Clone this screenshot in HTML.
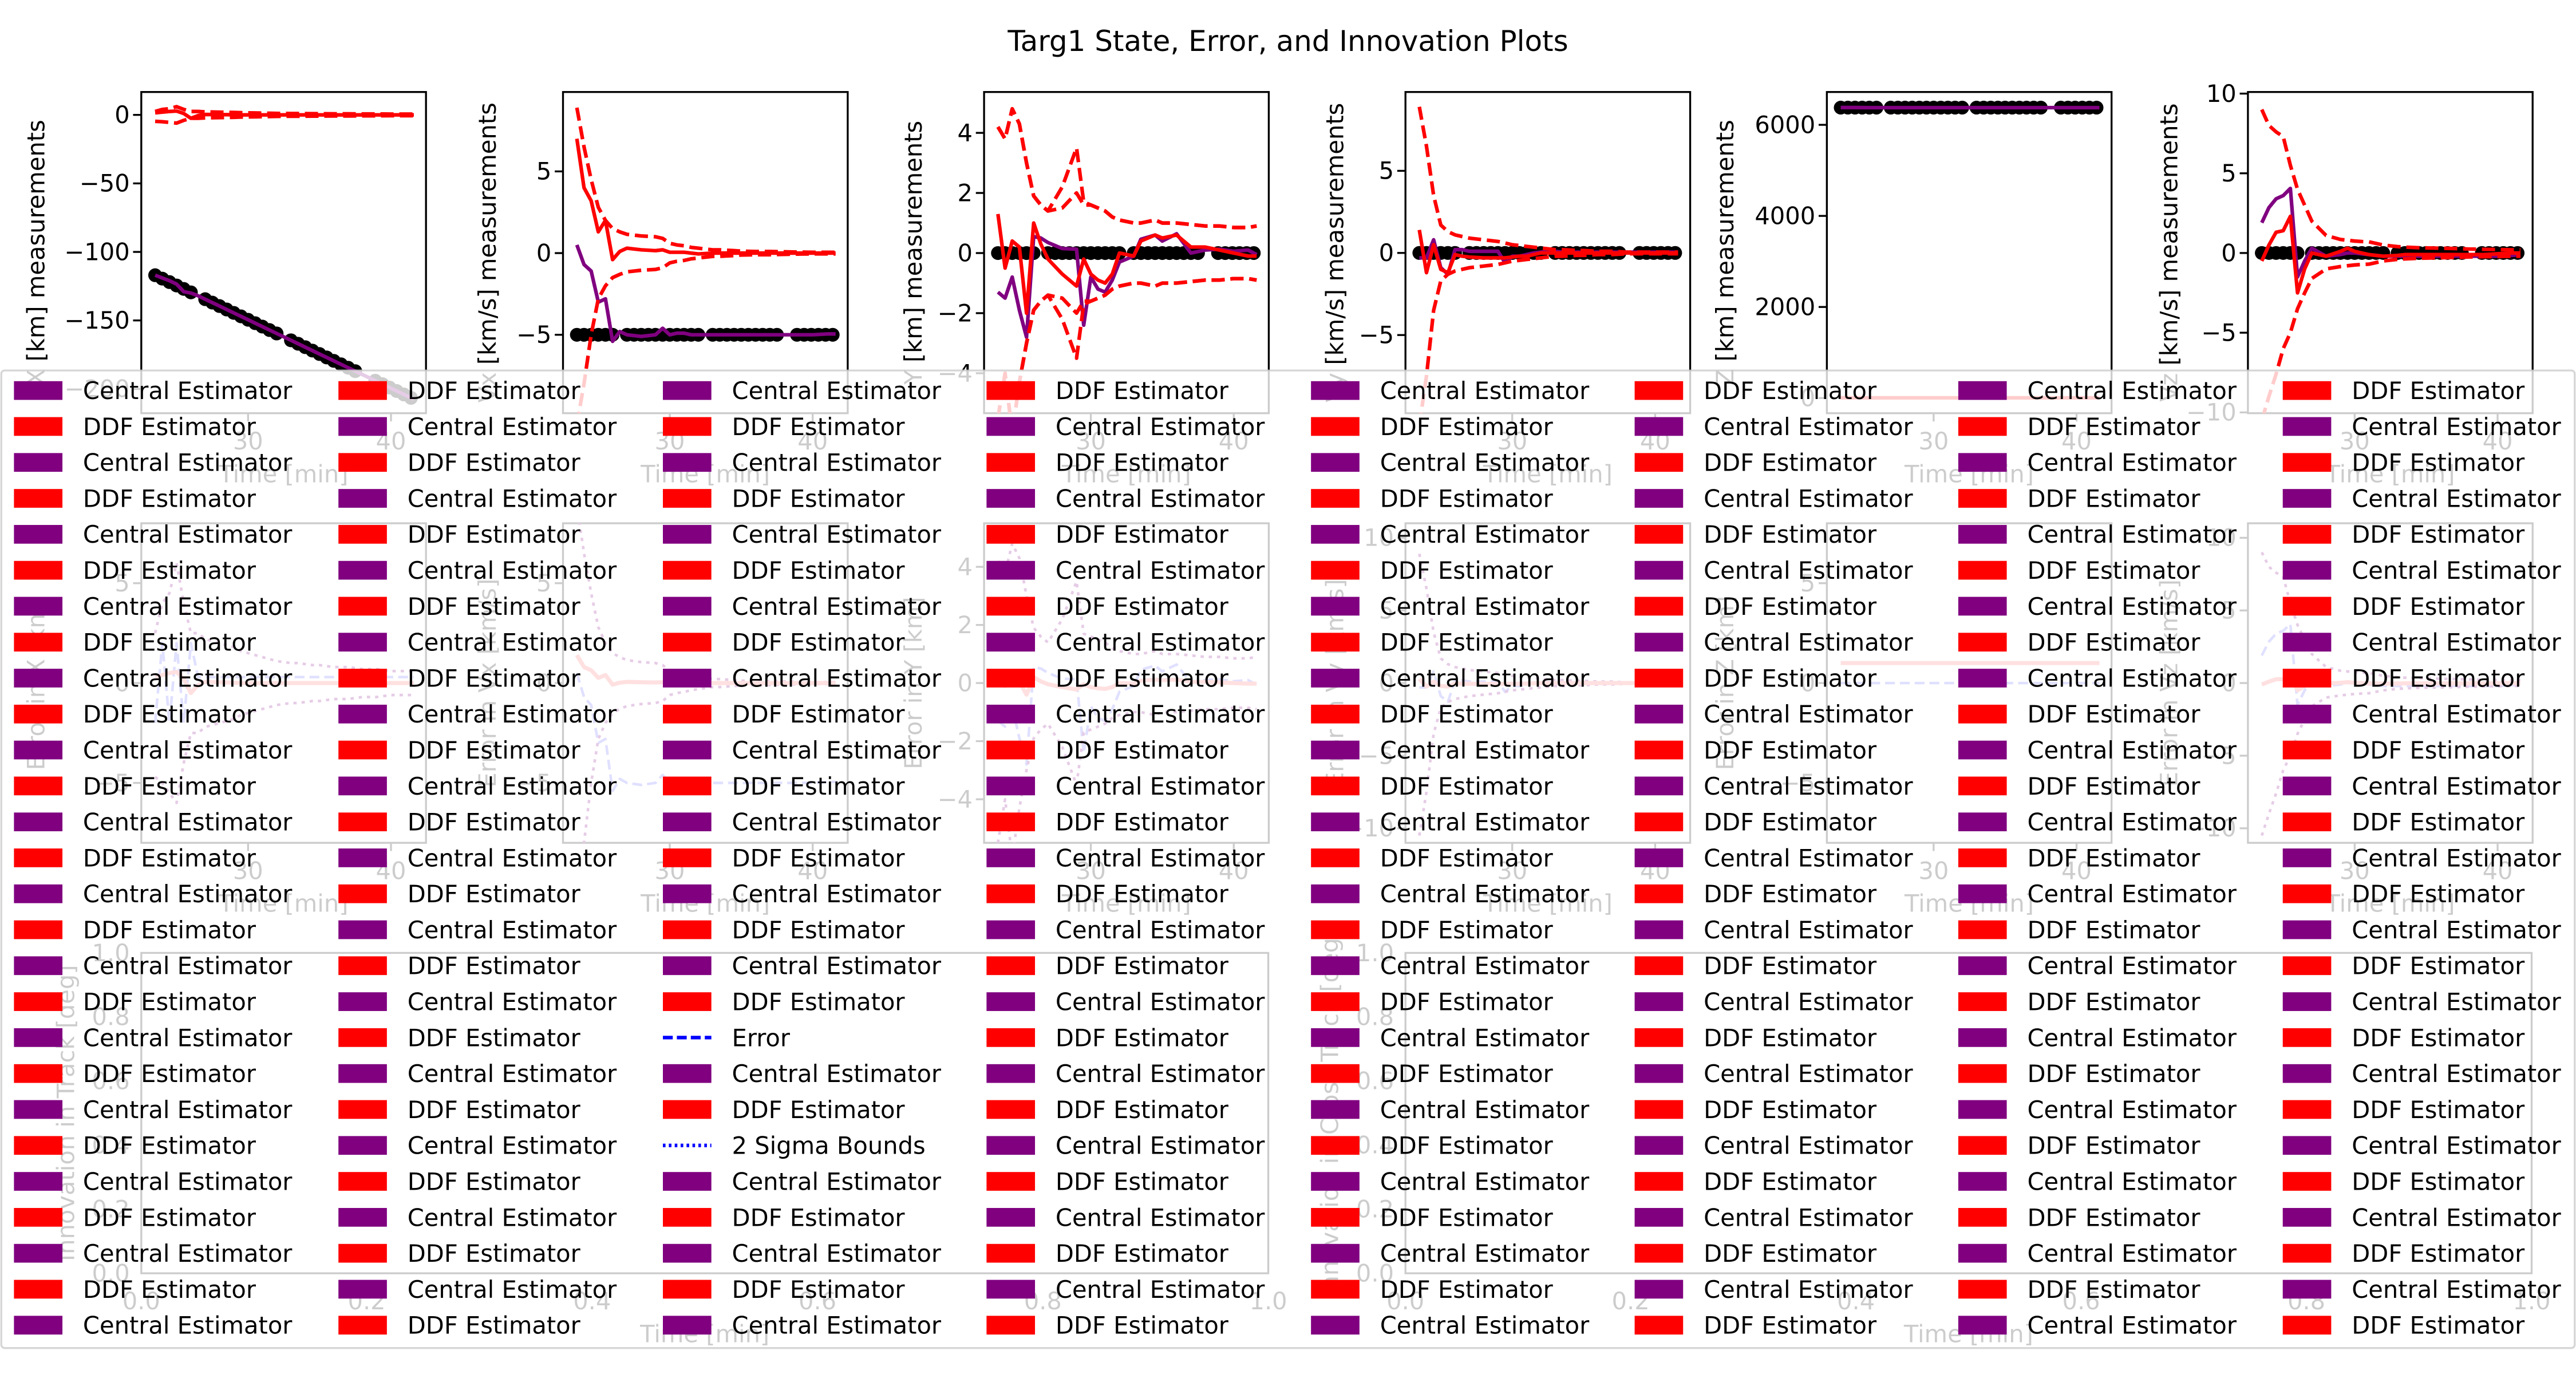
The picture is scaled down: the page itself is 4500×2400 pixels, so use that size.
<!DOCTYPE html>
<html><head><meta charset="utf-8"><style>
html,body{margin:0;padding:0;background:#fff;}
svg{display:block;font-family:"DejaVu Sans","Liberation Sans",sans-serif;}
</style></head><body>
<svg id="fig" xmlns="http://www.w3.org/2000/svg" width="4500" height="2400" viewBox="0 0 1568 836.3" preserveAspectRatio="none">
<rect x="0" y="0" width="1568" height="836.3" fill="#fff"/>
<text x="784" y="31" text-anchor="middle" font-size="17.4" fill="#000">Targ1 State, Error, and Innovation Plots</text>
<g id="row3"></g><g id="row2"></g><g id="row1"></g><g id="legend"></g>
</svg>
<script>
const T = [23.5,24.0,24.5,25.0,25.5,26.0,26.5,27.0,28.0,29.0,29.5,30.0,30.5,31.0,31.5,32.0,33.0,33.5,34.5,35.0,36.0,37.0,38.0,39.0,40.0,41.0,41.6];
const measTimes = [23.5,24.0,24.5,25.0,25.5,26.0,27.0,27.5,28.0,28.5,29.0,29.5,30.0,30.5,31.0,31.5,32.0,33.0,33.5,34.0,34.5,35.0,35.5,36.0,36.5,37.0,37.5,38.9,39.4,39.9,40.4,40.9,41.4];

const xMeas = [-117,-119.5,-122,-124.5,-127,-129.5,-134.5,-137,-139.5,-142,-144.5,-147,-149.5,-152,-154.5,-157,-159.5,-164.5,-167,-169.5,-172,-174.5,-177,-179.5,-182,-184.5,-187,-194,-196.5,-199,-201.5,-204,-206.5];
const xCentral = [-117,-119,-121,-123.5,-129,-130,-132,-134.5,-139.5,-144.5,-147,-149.5,-152,-154.5,-157,-159.5,-164.5,-167,-172,-174.5,-179.5,-184.5,-189.5,-194.5,-199.5,-204.5,-207.5];
const xDDF = [1.5,2.0,2.5,2.8,1.0,-2.5,-0.5,0.3,0.2,0.1,0,0,0,0,0,0,0,0,0,0,0,0,0,0,0,0,0];
const xUpper = [2.5,4.0,4.5,6.0,4.0,2.5,2.5,2.2,2.0,1.8,1.6,1.5,1.4,1.3,1.2,1.1,1.0,1.0,0.9,0.9,0.8,0.8,0.7,0.7,0.6,0.6,0.6];
const xLower = [-4.7,-5.0,-5.5,-6.0,-4.0,-2.5,-2.5,-2.2,-2.0,-1.8,-1.6,-1.5,-1.4,-1.3,-1.2,-1.1,-1.0,-1.0,-0.9,-0.9,-0.8,-0.8,-0.7,-0.7,-0.6,-0.6,-0.6];

const vxMeas = [-5,-5,-5,-5,-5,-5,-5,-5,-5,-5,-5,-5,-5,-5,-5,-5,-5,-5,-5,-5,-5,-5,-5,-5,-5,-5,-5,-5,-5,-5,-5,-5,-5];
const vxCentral = [0.5,-0.7,-1.1,-3.0,-2.8,-5.4,-4.8,-5.0,-5.1,-5.0,-4.6,-5.0,-4.9,-4.9,-5.0,-5.0,-5.0,-5.0,-5.0,-5.0,-5.0,-5.0,-5.0,-5.0,-5.0,-4.95,-4.95];
const vxDDF = [7.0,4.0,3.2,1.3,2.0,-0.4,0.1,0.3,0.2,0.15,0.2,0.05,0.05,0.05,0.0,-0.05,0,0,0,0,0,0,0,0,0,0,0];
const vxUpper = [8.9,6.5,4.5,2.8,2.0,1.5,1.3,1.15,1.05,1.0,0.9,0.6,0.5,0.45,0.35,0.3,0.2,0.2,0.15,0.12,0.1,0.1,0.08,0.06,0.05,0.05,0.05];
const vxLower = [-10.5,-8.0,-5.0,-2.8,-2.0,-1.5,-1.3,-1.15,-1.05,-1.0,-0.9,-0.6,-0.5,-0.45,-0.35,-0.3,-0.2,-0.2,-0.15,-0.12,-0.1,-0.1,-0.08,-0.06,-0.05,-0.05,-0.05];

const yMeas = [0,0,0,0,0,0,0,0,0,0,0,0,0,0,0,0,0,0,0,0,0,0,0,0,0,0,0,0,0,0,0,0,0];
const yCentral = [-1.3,-1.5,-0.8,-1.9,-2.8,0.55,0.5,0.35,0.15,0.13,-2.4,-0.8,-1.2,-1.3,-0.9,-0.3,-0.1,0.46,0.6,0.4,0.64,0.0,0.1,0.13,0.06,0.1,-0.05];
const yDDF = [1.3,-0.5,0.4,0.2,-2.0,1.0,0.3,-0.2,-0.7,-1.1,-0.2,-0.7,-0.9,-1.0,-0.7,0.0,-0.1,0.4,0.6,0.5,0.6,0.2,0.2,0.1,0.0,-0.1,-0.1];
const yUpper = [4.2,3.8,4.8,4.3,3.0,1.9,1.6,1.4,2.2,3.5,1.7,1.6,1.5,1.4,1.2,1.1,1.0,1.0,1.1,1.0,1.0,0.95,0.9,0.9,0.85,0.85,0.9];
const yUpper2 = [4.2,3.8,4.8,4.3,3.0,1.9,1.6,1.4,1.5,2.0,1.6,1.6,1.5,1.4,1.2,1.1,1.0,1.0,1.1,1.0,1.0,0.95,0.9,0.9,0.85,0.85,0.9];
const yLower = [-5.5,-4.0,-6.0,-4.3,-3.0,-1.9,-1.6,-1.4,-2.2,-3.5,-1.7,-1.6,-1.5,-1.4,-1.2,-1.1,-1.0,-1.0,-1.1,-1.0,-1.0,-0.95,-0.9,-0.9,-0.85,-0.85,-0.9];
const yLower2 = [-5.5,-4.0,-6.0,-4.3,-3.0,-1.9,-1.6,-1.4,-1.5,-2.0,-1.6,-1.6,-1.5,-1.4,-1.2,-1.1,-1.0,-1.0,-1.1,-1.0,-1.0,-0.95,-0.9,-0.9,-0.85,-0.85,-0.9];

const vyMeas = [0,0,0,0,0,0,0,0,0,0,0,0,0,0,0,0,0,0,0,0,0,0,0,0,0,0,0,0,0,0,0,0,0];
const vyCentral = [-0.3,-0.3,0.8,-0.9,-1.3,0.2,0.2,0.1,0.1,0.1,-0.6,-0.2,-0.2,-0.1,0.0,0.05,0.1,0.05,0.05,0.05,0.05,0.05,0.05,0.05,0.05,0.05,0.05];
const vyDDF = [1.4,-1.2,0.5,-1.0,-1.2,-0.1,-0.2,-0.25,-0.3,-0.3,-0.3,-0.25,-0.2,-0.2,-0.1,0.0,0.0,0.0,0.0,0.0,0.0,0.0,0.0,0.0,0.0,0.0,0.0];
const vyUpper = [8.9,6.5,3.5,1.7,1.3,1.1,1.0,0.9,0.8,0.7,0.6,0.5,0.45,0.4,0.35,0.3,0.2,0.2,0.15,0.15,0.1,0.1,0.05,0.05,0.05,0.05,0.05];
const vyLower = [-10.5,-7.5,-3.5,-1.7,-1.3,-1.1,-1.0,-0.9,-0.8,-0.7,-0.6,-0.5,-0.45,-0.4,-0.35,-0.3,-0.2,-0.2,-0.15,-0.15,-0.1,-0.1,-0.05,-0.05,-0.05,-0.05,-0.05];

const zMeas = [6378,6378,6378,6378,6378,6378,6378,6378,6378,6378,6378,6378,6378,6378,6378,6378,6378,6378,6378,6378,6378,6378,6378,6378,6378,6378,6378,6378,6378,6378,6378,6378,6378];
const zCentral = [6380,6380,6380,6379,6378,6378,6378,6378,6378,6378,6378,6378,6378,6378,6378,6378,6378,6378,6378,6378,6378,6378,6378,6378,6378,6378,6378];
const zDDF = [5,5,5,5,5,5,5,5,5,5,5,5,5,5,5,5,5,5,5,5,5,5,5,5,5,5,5];

const vzMeas = [0,0,0,0,0,0,0,0,0,0,0,0,0,0,0,0,0,0,0,0,0,0,0,0,0,0,0,0,0,0,0,0,0];
const vzCentral = [1.9,2.85,3.4,3.6,4.05,-1.5,-0.5,0.3,-0.2,-0.1,0.0,0.0,-0.05,-0.1,-0.15,-0.2,-0.2,-0.2,-0.2,-0.2,-0.2,-0.2,-0.2,-0.2,-0.2,-0.15,-0.1];
const vzDDF = [-0.5,0.5,1.3,1.4,2.3,-2.5,-1.0,0.0,-0.2,0.1,0.3,0.1,0.0,-0.1,-0.15,-0.2,-0.15,-0.1,-0.1,-0.1,-0.1,-0.1,-0.1,-0.1,-0.05,0.0,0.0];
const vzUpper = [9.0,8.0,7.6,7.3,5.5,4.0,3.0,2.0,1.1,0.85,0.8,0.75,0.72,0.7,0.6,0.5,0.4,0.37,0.33,0.32,0.3,0.28,0.25,0.23,0.22,0.2,0.2];
const vzLower = [-10.5,-9.0,-7.6,-6.0,-5.0,-3.5,-2.5,-1.6,-1.0,-0.85,-0.8,-0.75,-0.72,-0.7,-0.6,-0.5,-0.4,-0.37,-0.33,-0.32,-0.3,-0.28,-0.25,-0.23,-0.22,-0.2,-0.2];

const plotLabels = ["X [km] measurements","Vx [km/s] measurements","Y [km] measurements","Vy [km/s] measurements","Z [km] measurements","Vz [km/s] measurements"];
const yMins = [-217.7,-9.8,-5.33,-9.76,-333,-10.05];
const yMaxs = [16.7,9.86,5.36,9.8,6721,10.1];
const yTicks = [[0,-50,-100,-150,-200],[5,0,-5],[4,2,0,-2,-4],[5,0,-5],[0,2000,4000,6000],[10,5,0,-5,-10]];
const xTicks = [30,40];
const xMin = 22.53, xMax = 42.45;
const errLabels = ["Error in X [km]","Error in Vx [km/s]","Error in Y [km]","Error in Vy [km/s]","Error in Z [km]","Error in Vz [km/s]"];
const errTicks = [[5,0,-5],[5,0,-5],[4,2,0,-2,-4],[10,5,0,-5,-10],[5,0,-5],[10,5,0,-5,-10]];
const errRange = [[-8,8],[-8,8],[-5.5,5.5],[-11,11],[-8,8],[-11,11]];
const innovLabels = ["Innovation in Track [deg]","Innovation in Cross Track [deg]"];
const innovTicks = [0.0,0.2,0.4,0.6,0.8,1.0];

const NS = "http://www.w3.org/2000/svg";
function mk(tag, attrs, parent){const e=document.createElementNS(NS,tag);for(const k in attrs)e.setAttribute(k,attrs[k]);if(parent)parent.appendChild(e);return e;}
function fmt(v){const s=(Math.abs(v)%1===0)?String(Math.abs(v)):Math.abs(v).toFixed(1);return (v<0?"\u2212":"")+s;}

const lefts=[86,342.7,599,855.5,1112,1368.3];
const W=173.3;
const defs=mk("defs",{},document.getElementById("fig"));
const row1=document.getElementById("row1");
const row2=document.getElementById("row2");
const row3=document.getElementById("row3");
const labelOff=[64,46,43,43,62,48];

const series=[
 {meas:xMeas,c:xCentral,d:xDDF,up:[xUpper],lo:[xLower]},
 {meas:vxMeas,c:vxCentral,d:vxDDF,up:[vxUpper],lo:[vxLower]},
 {meas:yMeas,c:yCentral,d:yDDF,up:[yUpper,yUpper2],lo:[yLower,yLower2]},
 {meas:vyMeas,c:vyCentral,d:vyDDF,up:[vyUpper],lo:[vyLower]},
 {meas:zMeas,c:zCentral,d:zDDF,up:[],lo:[]},
 {meas:vzMeas,c:vzCentral,d:vzDDF,up:[vzUpper],lo:[vzLower]}
];

function drawAxes(parent,i,top,bot,ymin,ymax,ticks,label,name,xts,xlab){
  const L=lefts[i],R=L+W;
  const sx=t=>L+(t-xMin)/(xMax-xMin)*W;
  const sy=v=>bot-(v-ymin)/(ymax-ymin)*(bot-top);
  const g=mk("g",{},parent);
  
  
  const cp=mk("clipPath",{id:"cp"+name},defs);
  mk("rect",{x:L,y:top,width:W,height:bot-top},cp);
  const frame=mk("rect",{x:L,y:top,width:W,height:bot-top,fill:"none",stroke:"#000","stroke-width":1.16},g);
  
  
  ticks.forEach(v=>{
    const y=sy(v);
    const tk=mk("line",{x1:L-5,x2:L,y1:y,y2:y,stroke:"#000","stroke-width":1.16},g);
    
    
    const tl=mk("text",{x:L-7,y:y+5,"text-anchor":"end","font-size":14.5},g);
    tl.textContent=fmt(v);
    
    
  });
  xts.forEach(t=>{
    const x=sx(t);
    const tk=mk("line",{x1:x,x2:x,y1:bot,y2:bot+5,stroke:"#000","stroke-width":1.16},g);
    
    
    const tl=mk("text",{x:x,y:bot+22,"text-anchor":"middle","font-size":14.5},g);
    tl.textContent=String(t);
    
    
  });
  const xl=mk("text",{x:L+W/2,y:bot+42,"text-anchor":"middle","font-size":14.5},g);
  xl.textContent=xlab;
  
  
  const lx=L-labelOff[i], ly=(top+bot)/2;
  const yl=mk("text",{x:lx,y:ly,"text-anchor":"middle","dominant-baseline":"central","font-size":14.5,transform:"rotate(-90 "+lx+" "+ly+")"},g);
  yl.textContent=label;
  
  
  return {g,sx,sy,clip:"url(#cp"+name+")"};
}
function poly(ax,ts,vs,attrs,name){
  const pts=ts.map((t,k)=>ax.sx(t).toFixed(2)+","+ax.sy(vs[k]).toFixed(2)).join(" ");
  const a=Object.assign({points:pts,fill:"none","clip-path":ax.clip,"stroke-linejoin":"round"},attrs);
  const p=mk("polyline",a,ax.g);
  
  
  return p;
}

// Row 1
for(let i=0;i<6;i++){
  const ax=drawAxes(row1,i,56,251.5,yMins[i],yMaxs[i],yTicks[i],plotLabels[i],"state-plot-"+(i+1),xTicks,"Time [min]");
  const s=series[i];
  const dg=mk("g",{"clip-path":ax.clip},ax.g);
  
  
  measTimes.forEach((t,k)=>{
    const c=mk("circle",{cx:ax.sx(t),cy:ax.sy(s.meas[k]),r:4.2,fill:"#000"},dg);
    
    
  });
  poly(ax,T,s.c,{stroke:"#800080","stroke-width":2.2},"central-estimate-line");
  poly(ax,T,s.d,{stroke:"#ff0000","stroke-width":2.2},"ddf-estimate-line");
  s.up.forEach(u=>poly(ax,T,u,{stroke:"#ff0000","stroke-width":2.2,"stroke-dasharray":"8 3.5"},"ddf-upper-bound"));
  s.lo.forEach(u=>poly(ax,T,u,{stroke:"#ff0000","stroke-width":2.2,"stroke-dasharray":"8 3.5"},"ddf-lower-bound"));
}
// Row 2 (error plots, mostly hidden)
for(let i=0;i<6;i++){
  const ax=drawAxes(row2,i,318.5,513,errRange[i][0],errRange[i][1],errTicks[i],errLabels[i],"error-plot-"+(i+1),xTicks,"Time [min]");
  const s=series[i];
  const errC=s.c.map((v,k)=>i===0?v-xCentral[k]+ (k<6?(k%2?2:-2):0.3):(i===4?0:v));
  poly(ax,T,errC,{stroke:"#6666ff","stroke-width":1.6,"stroke-dasharray":"6 3"},"error-line");
  if(s.up.length){
    poly(ax,T,s.up[0],{stroke:"#800080","stroke-width":1.6,"stroke-dasharray":"2 3"},"error-sigma-upper");
    poly(ax,T,s.lo[0],{stroke:"#800080","stroke-width":1.6,"stroke-dasharray":"2 3"},"error-sigma-lower");
  }
  poly(ax,T,s.d.map(v=>v*0.2),{stroke:"#ff6666","stroke-width":2.5},"ddf-error-line");
}
// Row 3 (innovation plots)
[[86,772],[855.5,1541]].forEach((r,j)=>{
  const g=mk("g",{},row3);
  
  
  const L=r[0],R=r[1],top=580,bot=775;
  const fr=mk("rect",{x:L,y:top,width:R-L,height:bot-top,fill:"none",stroke:"#000","stroke-width":1.16},g);
  
  
  innovTicks.forEach(v=>{
    const y=bot-v*(bot-top), x=L+v*(R-L);
    const t1=mk("text",{x:L-7,y:y+5,"text-anchor":"end","font-size":14.5},g);
    t1.textContent=v.toFixed(1);
    
    
    const t2=mk("text",{x:x,y:bot+22,"text-anchor":"middle","font-size":14.5},g);
    t2.textContent=v.toFixed(1);
    
    
  });
  const xl=mk("text",{x:(L+R)/2,y:bot+42,"text-anchor":"middle","font-size":14.5},g);
  xl.textContent="Time [min]";
  
  
  const lx=L-46, ly=(top+bot)/2;
  const yl=mk("text",{x:lx,y:ly,"text-anchor":"middle","dominant-baseline":"central","font-size":14.5,transform:"rotate(-90 "+lx+" "+ly+")"},g);
  yl.textContent=innovLabels[j];
  
  
});

// Legend
const lg=document.getElementById("legend");


const lbg=mk("rect",{x:0.8,y:225.5,width:1566.4,height:595,rx:2,fill:"#fff","fill-opacity":0.8,stroke:"#cccccc","stroke-opacity":0.8,"stroke-width":1.16},lg);


const colX=[8.5,206,403.5,600.5,798,995,1192,1389.5];
let alt=0;
for(let c=0;c<8;c++){
  for(let r=0;r<27;r++){
    const y=237.7+r*21.88, x=colX[c];
    const e=mk("g",{},lg);
    
    
    let label,col=null,dash=null;
    if(c===2&&r===18){label="Error";dash="6 2.5";}
    else if(c===2&&r===21){label="2 Sigma Bounds";dash="1.6 2";}
    else {if(alt%2===0){label="Central Estimator";col="#800080";}else{label="DDF Estimator";col="#ff0000";} alt++;}
    if(col){
      const sw=mk("rect",{x:x,y:y-5.7,width:29.5,height:11.4,fill:col},e);
      
      
    } else {
      const ln=mk("line",{x1:x,x2:x+29.5,y1:y,y2:y,stroke:"#0000ff","stroke-width":2.2,"stroke-dasharray":dash},e);
      
      
    }
    const tx=mk("text",{x:x+42,y:y+5.2,"font-size":14.5,fill:"#000"},e);
    tx.textContent=label;
    
    
  }
}
</script>
</body></html>
